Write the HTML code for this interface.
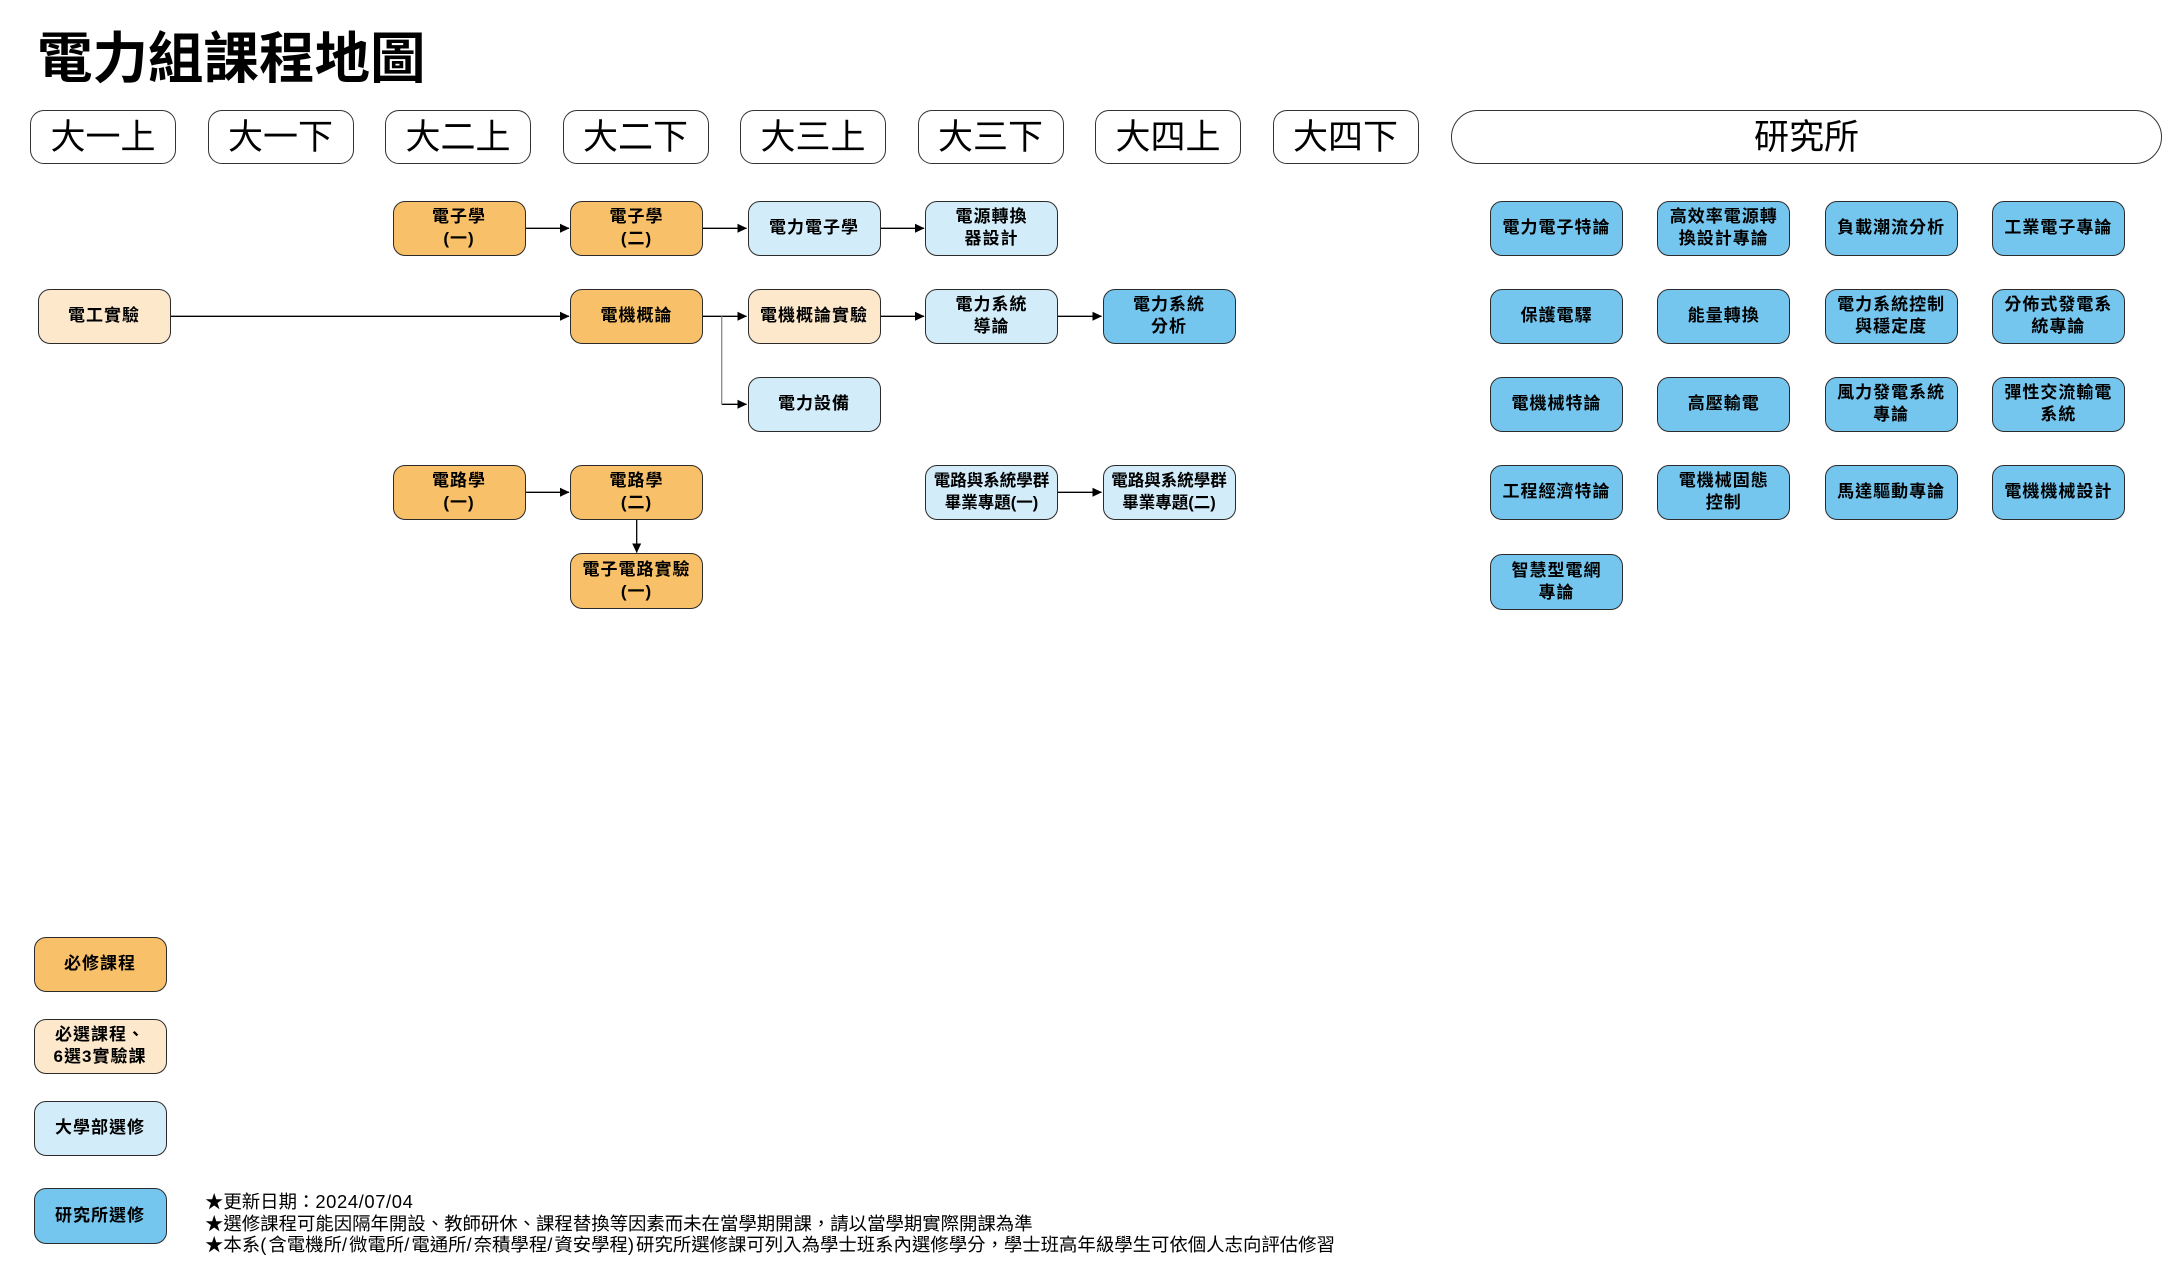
<!DOCTYPE html>
<html>
<head>
<meta charset="utf-8">
<style>
html,body{margin:0;padding:0;background:#fff;}
body{width:2169px;height:1274px;position:relative;overflow:hidden;font-family:"Liberation Sans","Noto Sans CJK TC",sans-serif;color:#000;}
.title{position:absolute;left:37px;top:32px;font-size:55.5px;line-height:55.5px;font-weight:bold;white-space:nowrap;}
.sem{position:absolute;top:110px;width:146px;height:54px;border:1.3px solid #333;border-radius:14px;box-sizing:border-box;display:flex;align-items:center;justify-content:center;font-size:35px;line-height:35px;background:#fff;}
.n{position:absolute;width:133px;height:55.5px;border:1.3px solid #2b2b2b;border-radius:12px;box-sizing:border-box;display:flex;align-items:center;justify-content:center;text-align:center;font-size:17px;line-height:22px;font-weight:bold;letter-spacing:1px;}
.o{background:#F8C068;}
.p{background:#FDE8CC;}
.l{background:#D2ECF9;}
.b{background:#74C6EE;}
.tight{letter-spacing:0;font-size:16.5px;}
.note{position:absolute;left:205px;top:1191px;font-size:18.4px;line-height:21.5px;white-space:nowrap;}
.note .a{letter-spacing:0.6px;}
.note .c{letter-spacing:2px;}
svg{position:absolute;left:0;top:0;}
</style>
</head>
<body>
<div class="title">電力組課程地圖</div>

<div class="sem" style="left:30px;">大一上</div>
<div class="sem" style="left:207.5px;">大一下</div>
<div class="sem" style="left:385px;">大二上</div>
<div class="sem" style="left:562.5px;">大二下</div>
<div class="sem" style="left:740px;">大三上</div>
<div class="sem" style="left:917.5px;">大三下</div>
<div class="sem" style="left:1095px;">大四上</div>
<div class="sem" style="left:1272.5px;">大四下</div>
<div class="sem" style="left:1451px;width:711px;border-radius:28px;">研究所</div>

<svg width="2169" height="1274" viewBox="0 0 2169 1274">
<defs>
<marker id="ah" markerWidth="10" markerHeight="10" refX="9" refY="5" orient="auto" markerUnits="userSpaceOnUse">
<path d="M0,0.5 L9.5,5 L0,9.5 Z" fill="#000"/>
</marker>
</defs>
<g stroke="#000" stroke-width="1.3" fill="none">
<line x1="525.5" y1="228.3" x2="569" y2="228.3" marker-end="url(#ah)"/>
<line x1="703" y1="228.3" x2="746.5" y2="228.3" marker-end="url(#ah)"/>
<line x1="880.5" y1="228.3" x2="924" y2="228.3" marker-end="url(#ah)"/>
<line x1="170.5" y1="316.3" x2="569" y2="316.3" marker-end="url(#ah)"/>
<line x1="703" y1="316.3" x2="746.5" y2="316.3" marker-end="url(#ah)"/>
<line x1="880.5" y1="316.3" x2="924" y2="316.3" marker-end="url(#ah)"/>
<line x1="1058" y1="316.3" x2="1101.5" y2="316.3" marker-end="url(#ah)"/>
<line x1="721.7" y1="404.3" x2="746.5" y2="404.3" marker-end="url(#ah)"/>
<line x1="525.5" y1="492.3" x2="569" y2="492.3" marker-end="url(#ah)"/>
<line x1="1058" y1="492.3" x2="1101.5" y2="492.3" marker-end="url(#ah)"/>
<line x1="636.7" y1="520" x2="636.7" y2="552.5" marker-end="url(#ah)"/>
</g>
<line x1="721.7" y1="316.3" x2="721.7" y2="404.3" stroke="#888" stroke-width="1.3"/>
</svg>

<!-- undergrad nodes -->
<div class="n o" style="left:392.5px;top:200.5px;">電子學<br>(一)</div>
<div class="n o" style="left:570px;top:200.5px;">電子學<br>(二)</div>
<div class="n l" style="left:747.5px;top:200.5px;">電力電子學</div>
<div class="n l" style="left:925px;top:200.5px;">電源轉換<br>器設計</div>

<div class="n p" style="left:37.5px;top:288.5px;">電工實驗</div>
<div class="n o" style="left:570px;top:288.5px;">電機概論</div>
<div class="n p" style="left:747.5px;top:288.5px;">電機概論實驗</div>
<div class="n l" style="left:925px;top:288.5px;">電力系統<br>導論</div>
<div class="n b" style="left:1102.5px;top:288.5px;">電力系統<br>分析</div>

<div class="n l" style="left:747.5px;top:376.5px;">電力設備</div>

<div class="n o" style="left:392.5px;top:464.5px;">電路學<br>(一)</div>
<div class="n o" style="left:570px;top:464.5px;">電路學<br>(二)</div>
<div class="n l tight" style="left:925px;top:464.5px;">電路與系統學群<br>畢業專題(一)</div>
<div class="n l tight" style="left:1102.5px;top:464.5px;">電路與系統學群<br>畢業專題(二)</div>

<div class="n o" style="left:570px;top:553px;">電子電路實驗<br>(一)</div>

<!-- graduate nodes -->
<div class="n b" style="left:1490px;top:200.5px;">電力電子特論</div>
<div class="n b" style="left:1657.3px;top:200.5px;">高效率電源轉<br>換設計專論</div>
<div class="n b" style="left:1824.6px;top:200.5px;">負載潮流分析</div>
<div class="n b" style="left:1991.9px;top:200.5px;">工業電子專論</div>

<div class="n b" style="left:1490px;top:288.5px;">保護電驛</div>
<div class="n b" style="left:1657.3px;top:288.5px;">能量轉換</div>
<div class="n b" style="left:1824.6px;top:288.5px;">電力系統控制<br>與穩定度</div>
<div class="n b" style="left:1991.9px;top:288.5px;">分佈式發電系<br>統專論</div>

<div class="n b" style="left:1490px;top:376.5px;">電機械特論</div>
<div class="n b" style="left:1657.3px;top:376.5px;">高壓輸電</div>
<div class="n b" style="left:1824.6px;top:376.5px;">風力發電系統<br>專論</div>
<div class="n b" style="left:1991.9px;top:376.5px;">彈性交流輸電<br>系統</div>

<div class="n b" style="left:1490px;top:464.5px;">工程經濟特論</div>
<div class="n b" style="left:1657.3px;top:464.5px;">電機械固態<br>控制</div>
<div class="n b" style="left:1824.6px;top:464.5px;">馬達驅動專論</div>
<div class="n b" style="left:1991.9px;top:464.5px;">電機機械設計</div>

<div class="n b" style="left:1490px;top:554px;">智慧型電網<br>專論</div>

<!-- legend -->
<div class="n o" style="left:33.5px;top:936.5px;">必修課程</div>
<div class="n p" style="left:33.5px;top:1018.5px;">必選課程、<br>6選3實驗課</div>
<div class="n l" style="left:33.5px;top:1100.5px;">大學部選修</div>
<div class="n b" style="left:33.5px;top:1188px;">研究所選修</div>

<div class="note">★更新日期：<span class="a">2024/07/04</span><br>★選修課程可能因隔年開設、教師研休、課程替換等因素而未在當學期開課，請以當學期實際開課為準<br>★本系<span class="c">(</span>含電機所<span class="c">/</span>微電所<span class="c">/</span>電通所<span class="c">/</span>奈積學程<span class="c">/</span>資安學程<span class="c">)</span>研究所選修課可列入為學士班系內選修學分，學士班高年級學生可依個人志向評估修習</div>
</body>
</html>
